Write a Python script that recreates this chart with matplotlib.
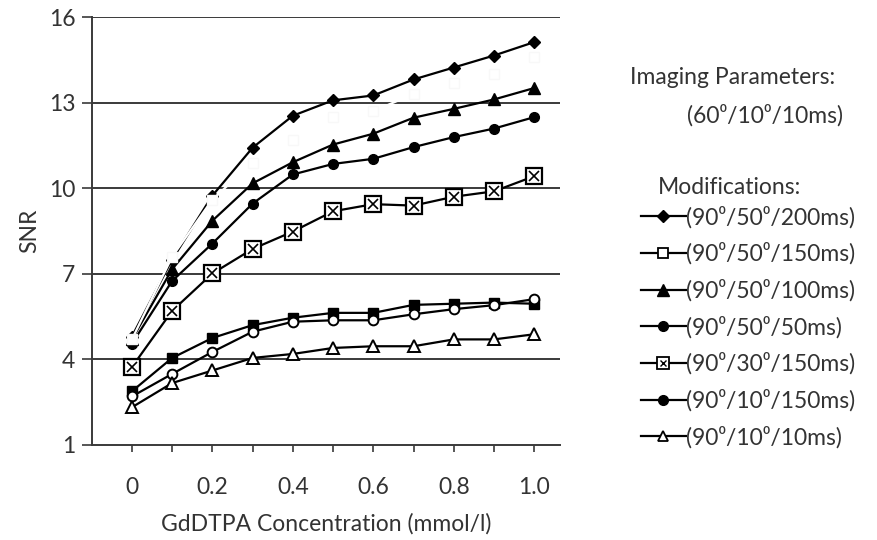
import numpy as np
import matplotlib
matplotlib.use("Agg")
import matplotlib.pyplot as plt
from matplotlib.lines import Line2D

plt.rcParams["font.family"] = ["Lato", "DejaVu Sans"]

conc = [0, 0.1, 0.2, 0.3, 0.4, 0.5, 0.6, 0.7, 0.8, 0.9, 1.0]

# reference series drawn in white in the original (barely visible)
snr_60_10_10 = [4.7, 7.6, 9.6, 10.9, 11.7, 12.5, 12.7, 13.3, 13.7, 14.0, 14.6]

snr_90_50_200 = [4.8, 7.5, 9.74, 11.42, 12.54, 13.08, 13.25, 13.81, 14.23, 14.65, 15.12]
snr_90_50_100 = [4.7, 7.16, 8.86, 10.17, 10.91, 11.53, 11.91, 12.47, 12.78, 13.11, 13.51]
snr_90_50_50 = [4.55, 6.75, 8.06, 9.46, 10.48, 10.85, 11.03, 11.44, 11.79, 12.09, 12.49]
snr_90_30_150 = [3.73, 5.70, 7.01, 7.87, 8.48, 9.19, 9.44, 9.39, 9.70, 9.89, 10.42]
snr_90_50_150 = [2.88, 4.05, 4.75, 5.20, 5.46, 5.63, 5.63, 5.91, 5.95, 5.99, 5.95]
snr_90_10_150 = [2.70, 3.49, 4.26, 4.97, 5.32, 5.37, 5.37, 5.58, 5.76, 5.90, 6.11]
snr_90_10_10 = [2.32, 3.17, 3.61, 4.05, 4.19, 4.40, 4.46, 4.46, 4.70, 4.70, 4.88]

legend_labels = [
    "(90⁰/50⁰/200ms)",
    "(90⁰/50⁰/150ms)",
    "(90⁰/50⁰/100ms)",
    "(90⁰/50⁰/50ms)",
    "(90⁰/30⁰/150ms)",
    "(90⁰/10⁰/150ms)",
    "(90⁰/10⁰/10ms)",
]

y_ticks = [1, 4, 7, 10, 13, 16]
x_ticklabels = ["0", "", "0.2", "", "0.4", "", "0.6", "", "0.8", "", "1.0"]

grey = "#3a3a3a"
txt = "#333333"
fs = 16.5

fig = plt.figure(figsize=(8.77, 5.4), dpi=100)
ax = fig.add_axes([0.105, 0.176, 0.5335, 0.7925])

for y in y_ticks[1:]:
    ax.axhline(y, color=grey, lw=1.4, zorder=0)

kw = dict(color="black", lw=1.6, zorder=3)
ax.plot(conc, snr_90_50_200, marker="D", ms=6.5, **kw)
ax.plot(conc, snr_90_50_100, marker="^", ms=8, **kw)
ax.plot(conc, snr_90_50_50, marker="o", ms=7, **kw)
ax.plot(conc, snr_90_30_150, marker="s", ms=11, mfc="white", mec="black", mew=1.6, **kw)
ax.plot(conc, snr_90_30_150, ls="none", marker="x", ms=7, mec="black", mew=1.2, zorder=4)
ax.plot(conc, snr_90_50_150, marker="s", ms=7.5, **kw)
ax.plot(conc, snr_90_10_150, marker="o", ms=7, mfc="white", mec="black", mew=1.4, **kw)
ax.plot(conc, snr_90_10_10, marker="^", ms=8, mfc="white", mec="black", mew=1.4, **kw)
ax.plot(conc, snr_60_10_10, color="white", lw=1.6, marker="s", ms=7,
        mfc="white", mec="#f8f8f8", zorder=5)

ax.set_xlim(-0.099, 1.064)
ax.set_ylim(1, 16)
ax.set_xticks(conc)
ax.set_xticklabels(x_ticklabels)
ax.set_yticks(y_ticks)
ax.tick_params(axis="x", direction="out", length=5, width=1.2, color=grey,
               labelsize=fs, pad=18, labelcolor=txt)
ax.tick_params(axis="y", direction="out", length=7, width=1.2, color=grey,
               labelsize=fs, pad=5, labelcolor=txt)
for s in ["top", "right"]:
    ax.spines[s].set_visible(False)
for s in ["left", "bottom"]:
    ax.spines[s].set_color(grey)
    ax.spines[s].set_linewidth(1.4)

ax.set_xlabel("GdDTPA Concentration (mmol/l)", fontsize=fs, color=txt, labelpad=11)
ax.set_ylabel("SNR", fontsize=fs, color=txt, labelpad=6)

# legend area
fig.text(630 / 877, 1 - 77 / 540, "Imaging Parameters:", fontsize=fs,
         color=txt, va="center")
fig.text(687 / 877, 1 - 115 / 540, "(60⁰/10⁰/10ms)", fontsize=fs,
         color=txt, va="center")
fig.text(658 / 877, 1 - 187 / 540, "Modifications:", fontsize=fs,
         color=txt, va="center")

lk = dict(color="black", lw=1.6)
crossed = (Line2D([], [], marker="s", ms=8, mfc="white", mew=1.3, **lk),
           Line2D([], [], ls="none", marker="x", ms=5, mec="black", mew=1.0))
handles = [
    Line2D([], [], marker="D", ms=6, **lk),
    Line2D([], [], marker="s", ms=7, mfc="white", mew=1.3, **lk),
    Line2D([], [], marker="^", ms=8, **lk),
    Line2D([], [], marker="o", ms=7, **lk),
    crossed,
    Line2D([], [], marker="o", ms=7, **lk),
    Line2D([], [], marker="^", ms=7, mfc="white", mew=1.3, **lk),
]
leg = fig.legend(handles, legend_labels, loc="upper left",
                 bbox_to_anchor=(641 / 877, 1 - 206 / 540), frameon=False,
                 fontsize=fs, handlelength=1.95, handletextpad=0.0,
                 labelspacing=0.62, borderaxespad=0, borderpad=0)
for t in leg.get_texts():
    t.set_color(txt)

fig.savefig("out.png", dpi=100)
